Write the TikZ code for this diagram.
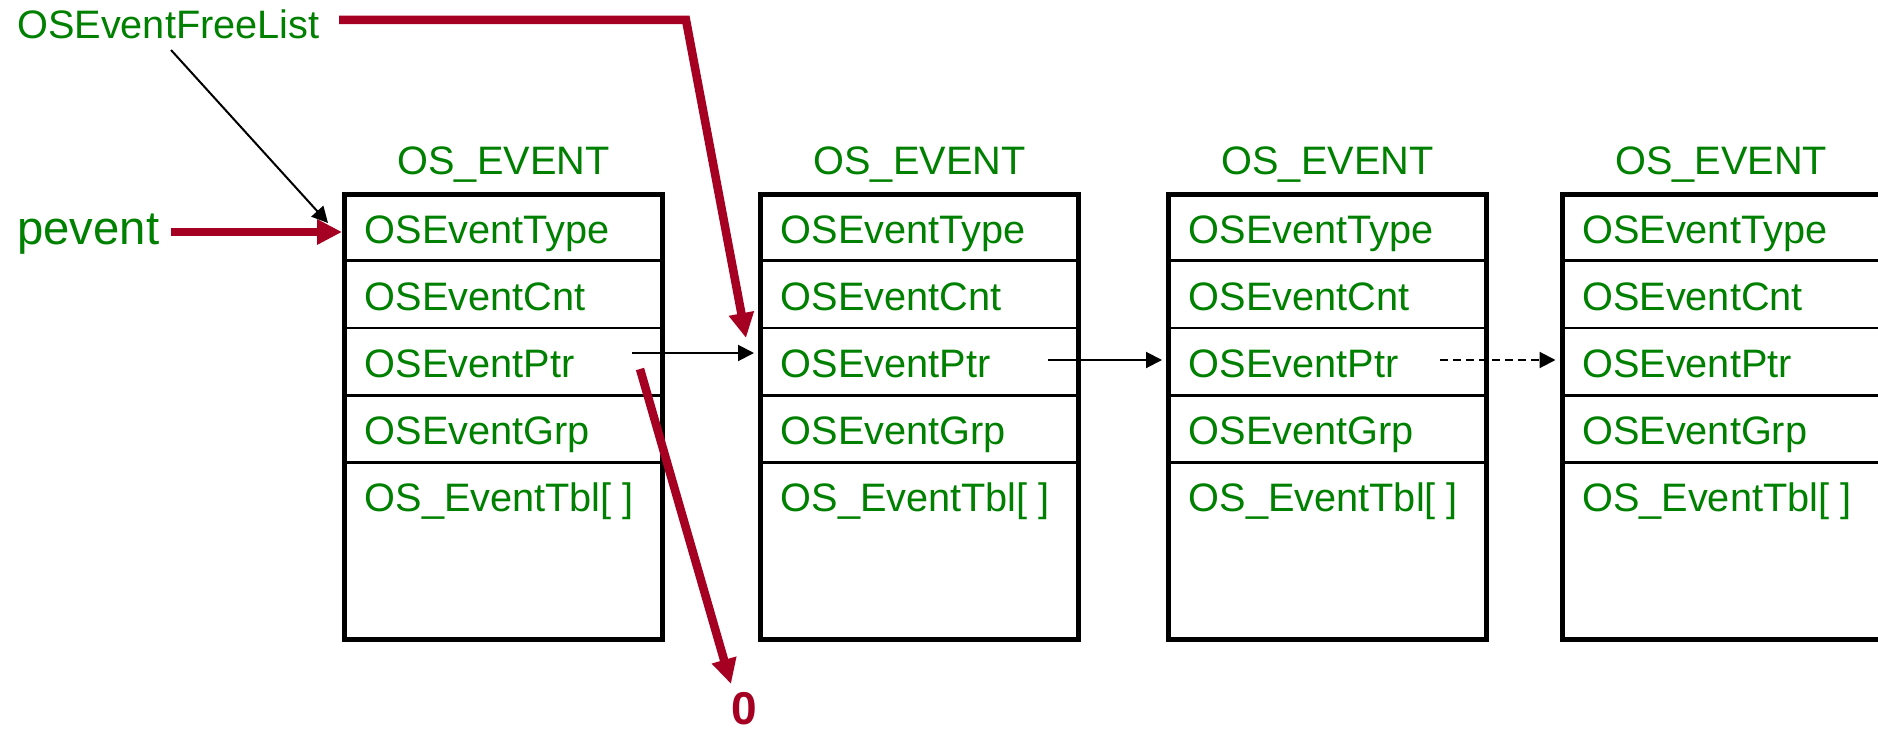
\documentclass[tikz,border=0pt]{standalone}
\usepackage{fontspec}
\setmainfont{Liberation Sans}
\usetikzlibrary{arrows.meta}
\definecolor{grn}{RGB}{0,128,0}
\definecolor{dred}{RGB}{165,0,33}
\begin{document}
\begin{tikzpicture}[x=1pt,y=-1pt,
  lbl/.style={text=grn, font=\fontsize{39.7}{44}\selectfont, inner sep=0pt},
  field/.style={lbl, anchor=base west},
  boxtitle/.style={lbl, anchor=base},
  structbox/.style={draw=black, line width=5pt, minimum width=318pt, minimum height=445pt, inner sep=0pt},
  rowline/.style={line width=2.5pt},
  redarrow/.style={draw=dred, line width=8.5pt, -{Triangle[length=25pt,width=24pt]}},
  ptrarrow/.style={line width=2pt, -{Triangle[length=16pt,width=16pt]}, shorten >=4pt},
  dashptr/.style={ptrarrow, dash pattern=on 8pt off 5pt},
]
\useasboundingbox (0,0) rectangle (1878,730);
\clip (0,0) rectangle (1878,730);

\foreach \i/\L in {1/344.5, 2/760.5, 3/1168.5, 4/1562}{
  \node[structbox] (box\i) at (\L+159,417) {};
  \node[boxtitle] (title\i) at (\L+159,175) {OS\_EVENT};
  \foreach \y in {260.5,328,395.5,462.5}{
    \draw[rowline] (\L,\y) -- (\L+318,\y);
  }
  \node[field] (type\i) at (\L+20,243) {OSEventType};
  \node[field] (cnt\i)  at (\L+20,310) {OSEventCnt};
  \node[field] (ptr\i)  at (\L+20,377.5) {OSEventPtr};
  \node[field] (grp\i)  at (\L+20,444.5) {OSEventGrp};
  \node[field] (tbl\i)  at (\L+20,511.5) {OS\_EventTbl[ ]};
}

% labels
\node[lbl, anchor=base west] (freelist) at (17,39) {OSEventFreeList};
\node[lbl, font=\fontsize{47.3}{52}\selectfont, anchor=base west] (pevent) at (17,244) {pevent};
\node[text=dred, font=\bfseries\fontsize{46}{50}\selectfont, inner sep=0pt] (zero) at (744,708.5) {0};

% coordinates for connector ends
\coordinate (flA) at (339,20);
\coordinate (flB) at (686,20);
\coordinate (flC) at (746,338);
\coordinate (flThin) at (171,50);
\coordinate (flThinEnd) at (328,223);
\coordinate (pvA) at (171,232);
\coordinate (nullA) at (640,369);
\coordinate (nullB) at (731,684);
\coordinate (p1) at (632,353);
\coordinate (p2) at (1048,360);
\coordinate (p3) at (1440,360);

% pointers between boxes
\draw[ptrarrow] (p1) -- (p1 -| box2.west);
\draw[ptrarrow] (p2) -- (p2 -| box3.west);
\draw[dashptr] (p3) -- (p3 -| box4.west);

% free list and pevent
\draw[line width=2pt, -{Triangle[length=16pt,width=16pt]}] (flThin) -- (flThinEnd);
\draw[redarrow, line join=miter] (flA) -- (flB) -- (flC);
\draw[redarrow] (pvA) -- (pvA -| box1.west);
\draw[redarrow] (nullA) -- (nullB);
\end{tikzpicture}
\end{document}
